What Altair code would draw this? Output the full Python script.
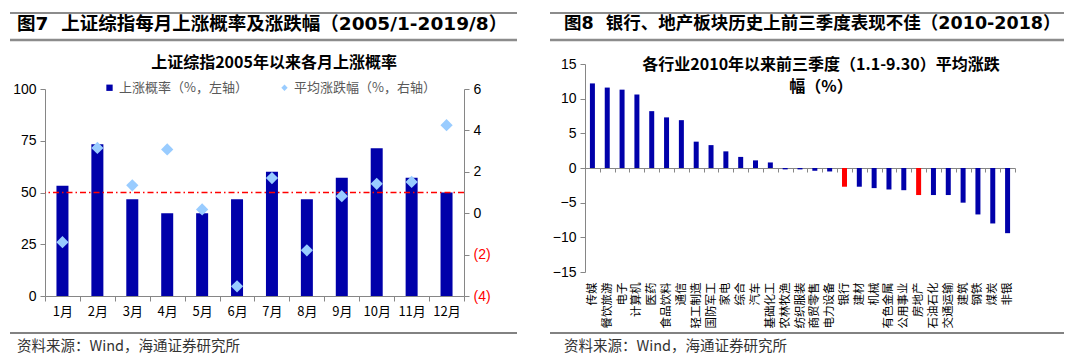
import altair as alt
import pandas as pd

# ---------------- data ----------------
months = ["1月", "2月", "3月", "4月", "5月", "6月", "7月", "8月", "9月", "10月", "11月", "12月"]
up_prob = [53.3, 73.3, 46.7, 40.0, 40.0, 46.7, 60.0, 46.7, 57.1, 71.4, 57.1, 50.0]
avg_chg = [-1.40, 3.15, 1.35, 3.08, 0.18, -3.53, 1.70, -1.79, 0.82, 1.42, 1.51, 4.25]
series = ["上涨概率（%，左轴）", "平均涨跌幅（%，右轴）"]

industries = ["传媒", "餐饮旅游", "电子", "计算机", "医药", "食品饮料", "通信", "轻工制造",
              "国防军工", "家电", "综合", "汽车", "基础化工", "农林牧渔", "纺织服装", "商贸零售",
              "电力设备", "银行", "建材", "机械", "有色金属", "公用事业", "房地产", "石油石化",
              "交通运输", "建筑", "钢铁", "煤炭", "非银"]
ytd_chg = [12.2, 11.6, 11.3, 10.6, 8.2, 7.3, 6.9, 3.8, 3.3, 2.4, 1.6, 1.1, 0.8,
           -0.2, -0.2, -0.4, -0.5, -2.7, -2.7, -2.9, -3.1, -3.2, -3.9, -3.9, -3.9,
           -5.0, -6.7, -8.0, -9.4]
highlight = ["银行", "房地产"]

left_ticks = [0, 25, 50, 75, 100]
right_ticks = [-4, -2, 0, 2, 4, 6]
ticks2 = [-15, -10, -5, 0, 5, 10, 15]

header1 = "图7\u00a0\u00a0上证综指每月上涨概率及涨跌幅（2005/1-2019/8）"
header2 = "图8\u00a0\u00a0银行、地产板块历史上前三季度表现不佳（2010-2018）"
title1 = "上证综指2005年以来各月上涨概率"
title2 = "各行业2010年以来前三季度（1.1-9.30）平均涨跌\n幅（%）"
footer = "资料来源：Wind，海通证券研究所"

# ---------------- style ----------------
FONT = "Liberation Sans, Noto Sans CJK SC, sans-serif"
HFONT = "DejaVu Sans, Noto Sans CJK SC, sans-serif"
CJK = "Noto Sans CJK SC, Liberation Sans, sans-serif"
BLUE = "#0000AA"
LIGHT = "#99CCFF"
RED = "#FF0000"
AX = "#868686"

W1, H1 = 419, 232
W2, H2 = 430, 208


def hline(x0, x1, y, w, color):
    return alt.Chart(pd.DataFrame({"a": [0]})).mark_rule(color=color, strokeWidth=w).encode(
        x=alt.value(x0), x2=alt.value(x1), y=alt.value(y))


def deco(header, footer_text, left, right, tx, hsize):
    top = hline(left, right, -51, 2, "#8C8C8C")
    mid = hline(left, right, -24, 2.5, "#8C8C8C")
    bot = hline(left, right, 269, 1.4, "#595959")
    htxt = alt.Chart(pd.DataFrame({"t": [header]})).mark_text(
        align="left", baseline="middle", fontSize=hsize, fontWeight="bold", font=HFONT,
        color="#000000").encode(text="t:N", x=alt.value(tx), y=alt.value(-40))
    ftxt = alt.Chart(pd.DataFrame({"t": [footer_text]})).mark_text(
        align="left", baseline="middle", fontSize=14.5, font=CJK, color="#333333").encode(
        text="t:N", x=alt.value(tx), y=alt.value(283))
    return top, mid, bot, htxt, ftxt


# ---------------- panel 1 ----------------
df1 = pd.DataFrame({"month": months, "prob": up_prob, "chg": avg_chg,
                    "s1": series[0], "s2": series[1]})

x1 = alt.X("month:N", sort=months, title=None,
           scale=alt.Scale(paddingInner=0, paddingOuter=0),
           axis=alt.Axis(labelAngle=0, tickBand="extent", tickSize=5, labelPadding=4,
                         labelFontSize=13, labelFont=CJK, labelColor="#000000",
                         domainColor=AX, tickColor=AX))

leg = alt.Legend(orient="none", legendX=58, legendY=17, direction="horizontal", title=None,
                 labelFontSize=13, labelFont=CJK, labelColor="#595959", symbolSize=40,
                 columnPadding=30, labelOffset=3, symbolStrokeWidth=0)

yl = alt.Scale(domain=[0, 100], range=[H1, 25])
yaxis_l = alt.Axis(values=left_ticks, title=None, grid=False, tickSize=5, labelPadding=4,
                   labelFontSize=14, labelFont=FONT, labelColor="#000000",
                   domainColor=AX, tickColor=AX)
bars1 = alt.Chart(df1).mark_bar(size=12).encode(
    x=x1,
    y=alt.Y("prob:Q", scale=yl, axis=yaxis_l),
    color=alt.Color("s1:N", scale=alt.Scale(domain=series, range=[BLUE, LIGHT]), legend=leg),
)
ref = alt.Chart(pd.DataFrame({"v": [50]})).mark_rule(
    color="#FF0000", strokeWidth=1.4, strokeDash=[6, 3, 1.5, 3]).encode(
    y=alt.Y("v:Q", scale=yl, axis=yaxis_l))

pts = alt.Chart(df1).mark_point(filled=True, size=150, opacity=1).encode(
    x=x1,
    y=alt.Y("chg:Q", scale=alt.Scale(domain=[-4, 6], range=[H1, 25]),
            axis=alt.Axis(orient="right", values=right_ticks, title=None, grid=False,
                          tickSize=5, labelPadding=4, labelFontSize=14, labelFont=FONT,
                          labelExpr="datum.value < 0 ? '(' + abs(datum.value) + ')' : datum.label",
                          labelColor={"condition": {"test": "datum.value < 0", "value": "#FF0000"},
                                      "value": "#000000"},
                          domainColor=AX, tickColor=AX)),
    color=alt.Color("s2:N", scale=alt.Scale(domain=series, range=[BLUE, LIGHT]), legend=leg),
    shape=alt.Shape("s2:N", scale=alt.Scale(domain=series, range=["square", "diamond"]), legend=leg),
)

t1 = alt.Chart(pd.DataFrame({"t": [title1]})).mark_text(
    align="center", baseline="middle", fontSize=16, fontWeight="bold", font=CJK,
    color="#000000").encode(text="t:N", x=alt.value(229), y=alt.value(-1))

d1 = deco(header1, footer, -35, 472, -28, 18.5)
panel1 = alt.layer(alt.layer(bars1, ref), pts, t1, *d1).resolve_scale(y="independent").properties(
    width=W1, height=H1)

# ---------------- panel 2 ----------------
df2 = pd.DataFrame({"ind": industries, "chg": ytd_chg})

bars2 = alt.Chart(df2).mark_bar(size=5).encode(
    x=alt.X("ind:N", sort=industries, title=None,
            scale=alt.Scale(paddingInner=0, paddingOuter=0),
            axis=alt.Axis(labelAngle=-90, offset=-104, labelPadding=110, tickBand="extent",
                          tickSize=4, labelFontSize=11.5, labelFont=CJK, labelColor="#000000",
                          domainColor=AX, tickColor=AX)),
    y=alt.Y("chg:Q", scale=alt.Scale(domain=[-15, 15]),
            axis=alt.Axis(values=ticks2, title=None, grid=False, tickSize=5, labelPadding=4,
                          labelFontSize=14, labelFont=FONT, labelColor="#000000",
                          domainColor=AX, tickColor=AX)),
    color=alt.condition(alt.FieldOneOfPredicate(field="ind", oneOf=highlight),
                        alt.value(RED), alt.value(BLUE)),
)

t2 = alt.Chart(pd.DataFrame({"t": [title2]})).mark_text(
    align="center", baseline="top", fontSize=16, fontWeight="bold", font=CJK,
    color="#000000", lineBreak="\n", lineHeight=22).encode(
    text="t:N", x=alt.value(236), y=alt.value(-7))

d2 = deco(header2, footer, -35, 479, -21, 17.5)
panel2 = alt.layer(bars2, t2, *d2).properties(width=W2, height=H2)

chart = alt.hconcat(panel1, panel2, spacing=121, bounds="flush").properties(
    padding={"left": 0, "right": 0, "top": 4, "bottom": 0}).configure_view(stroke=None)

chart.save("out.html", embed_options={"renderer": "svg", "actions": False})
